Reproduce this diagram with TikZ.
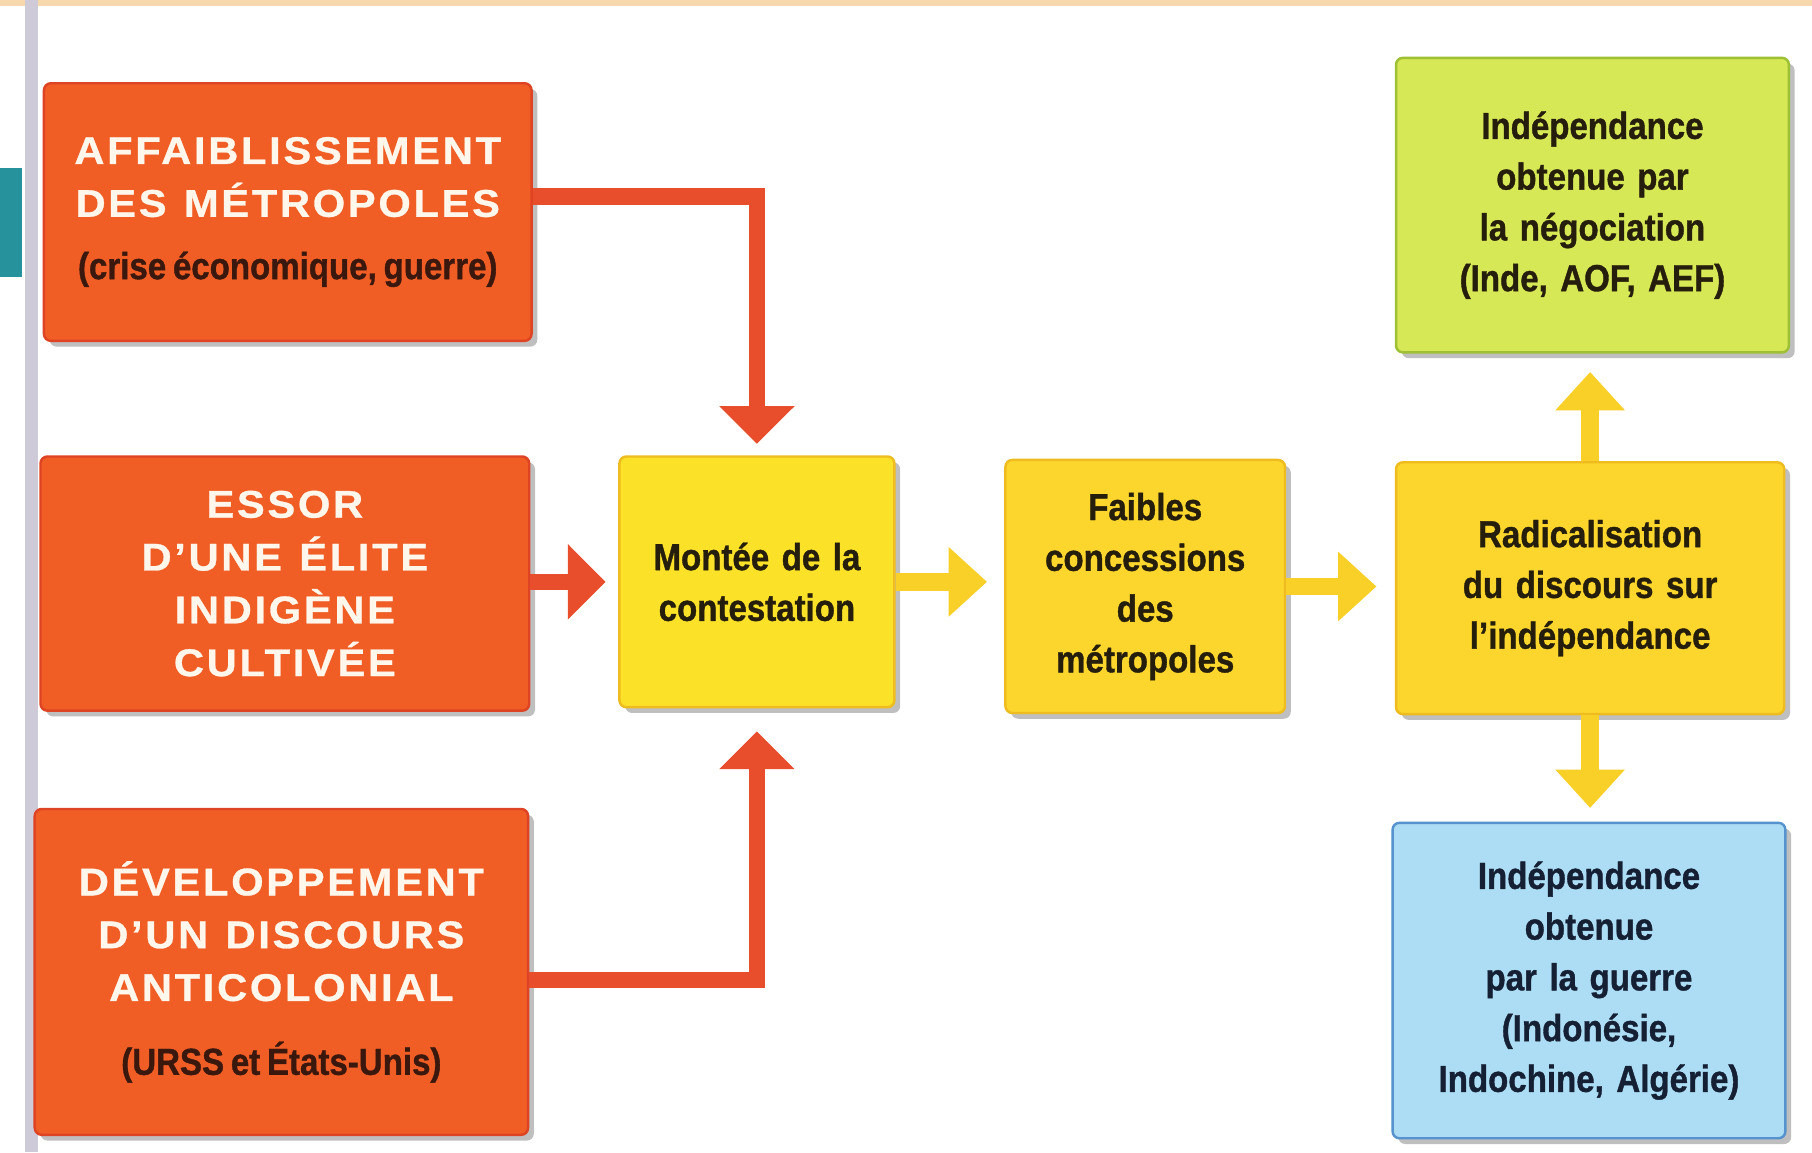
\documentclass[tikz,border=0pt]{standalone}
\usepackage{fontspec}
\setmainfont{Liberation Sans}
\newfontfamily\capsfont[FakeStretch=1.08,LetterSpace=7,FakeBold=0.8]{Liberation Sans}
\newfontfamily\condfont[FakeStretch=0.88,FakeBold=1]{Liberation Sans}
\usetikzlibrary{arrows.meta,shadows}
\frenchspacing

\definecolor{boxorange}{RGB}{240,94,38}
\definecolor{edgeorange}{RGB}{222,68,36}
\definecolor{arroworange}{RGB}{232,78,44}
\definecolor{boxyellow}{RGB}{251,226,40}
\definecolor{boxamber}{RGB}{252,214,44}
\definecolor{edgeyellow}{RGB}{238,188,30}
\definecolor{arrowyellow}{RGB}{248,208,40}
\definecolor{boxgreen}{RGB}{214,232,86}
\definecolor{edgegreen}{RGB}{158,192,52}
\definecolor{boxblue}{RGB}{172,221,244}
\definecolor{edgeblue}{RGB}{86,146,206}
\definecolor{inkbrown}{RGB}{58,24,14}
\definecolor{inkdark}{RGB}{38,30,12}
\definecolor{inknavy}{RGB}{22,32,52}
\definecolor{capwhite}{RGB}{255,246,236}
\definecolor{pagegray}{RGB}{206,202,216}
\definecolor{pageteal}{RGB}{38,146,156}
\definecolor{pagestrip}{RGB}{246,216,172}

\newcommand\capstxt{\capsfont\bfseries\fontsize{19}{26}\selectfont\color{capwhite}}
\newcommand\darktxt{\condfont\bfseries\fontsize{18.5}{25}\selectfont\frenchspacing}
\newcommand\capsgap{\hspace{0.45em}}

\tikzset{
  box/.style={rectangle, rounded corners=0.12cm, line width=1.2pt, align=center, inner sep=0.1cm,
    drop shadow={shadow xshift=0.1cm, shadow yshift=-0.1cm, opacity=0.25, fill=black}},
  causebox/.style={box, fill=boxorange, draw=edgeorange},
  stagebox/.style={box, fill=boxyellow, draw=edgeyellow, font=\darktxt\color{inkdark}},
  ambertbox/.style={box, fill=boxamber, draw=edgeyellow, font=\darktxt\color{inkdark}},
  peacebox/.style={box, fill=boxgreen, draw=edgegreen, font=\darktxt\color{inkdark}},
  warbox/.style={box, fill=boxblue, draw=edgeblue, font=\darktxt\color{inknavy}},
  redarrow/.style={draw=arroworange, line width=0.28cm,
    -{Triangle[width=1.3cm,length=0.65cm,line width=0.5pt]}},
  yellowarrow/.style={draw=arrowyellow, line width=0.3cm,
    -{Triangle[width=1.2cm,length=0.66cm,line width=0.5pt]}}
}

\begin{document}
\begin{tikzpicture}[x=0.02cm,y=-0.02cm]
\useasboundingbox (0,0) rectangle (1568,997);
\fill[white] (0,0) rectangle (1568,997);
\fill[pagestrip] (0,0) rectangle (1568,5);
\fill[pagegray] (22,0) rectangle (33,997);
\fill[pageteal] (0,145) rectangle (19,240);

\node[causebox, minimum width=8.44cm, minimum height=4.46cm, text width=8.2cm] (weak) at (249,183.5)
  {{\capstxt AFFAIBLISSEMENT\\DES\capsgap MÉTROPOLES\par}\vspace{0.2cm}{\darktxt\color{inkbrown}(crise économique, guerre)\par}};
\node[causebox, minimum width=8.46cm, minimum height=4.4cm, text width=8.2cm] (elite) at (246.5,505)
  {{\capstxt ESSOR\\D’UNE\capsgap ÉLITE\\INDIGÈNE\\CULTIVÉE\par}};
\node[causebox, minimum width=8.54cm, minimum height=5.64cm, text width=8.3cm] (anti) at (243.5,841)
  {{\capstxt DÉVELOPPEMENT\\D’UN\capsgap DISCOURS\\ANTICOLONIAL\par}\vspace{0.4cm}{\darktxt\color{inkbrown}(URSS et États-Unis)\par}};

\node[stagebox, minimum width=4.76cm, minimum height=4.34cm, text width=4.5cm] (rise) at (655,503.5)
  {Montée de la\\contestation};
\node[ambertbox, minimum width=4.84cm, minimum height=4.38cm, text width=4.6cm] (weakcon) at (991,507.5)
  {Faibles\\concessions\\des\\métropoles};
\node[ambertbox, minimum width=6.72cm, minimum height=4.36cm, text width=6.5cm] (radical) at (1376,509)
  {Radicalisation\\du discours sur\\l’indépendance};
\node[peacebox, minimum width=6.8cm, minimum height=5.1cm, text width=6.6cm] (nego) at (1378,177.5)
  {Indépendance\\obtenue par\\la négociation\\(Inde, AOF, AEF)};
\node[warbox, minimum width=6.8cm, minimum height=5.46cm, text width=6.6cm] (war) at (1375,848.5)
  {Indépendance\\obtenue\\par la guerre\\(Indonésie,\\Indochine, Algérie)};

\draw[redarrow, shorten >=0.2cm] ([yshift=0.27cm]weak.east) -| (rise.north);
\draw[redarrow, shorten >=0.22cm] (elite.east |- rise.west) -- (rise.west);
\draw[redarrow, shorten >=0.4cm] ([yshift=-0.14cm]anti.east) -| (rise.south);
\draw[yellowarrow, shorten >=0.3cm] (rise.east) -- (rise.east -| weakcon.west);
\draw[yellowarrow, shorten >=0.32cm] (weakcon.east) -- (weakcon.east -| radical.west);
\draw[yellowarrow, shorten >=0.32cm] (radical.north) -- (radical.north |- nego.south);
\draw[yellowarrow, shorten >=0.24cm] (radical.south) -- (radical.south |- war.north);

\end{tikzpicture}
\end{document}
